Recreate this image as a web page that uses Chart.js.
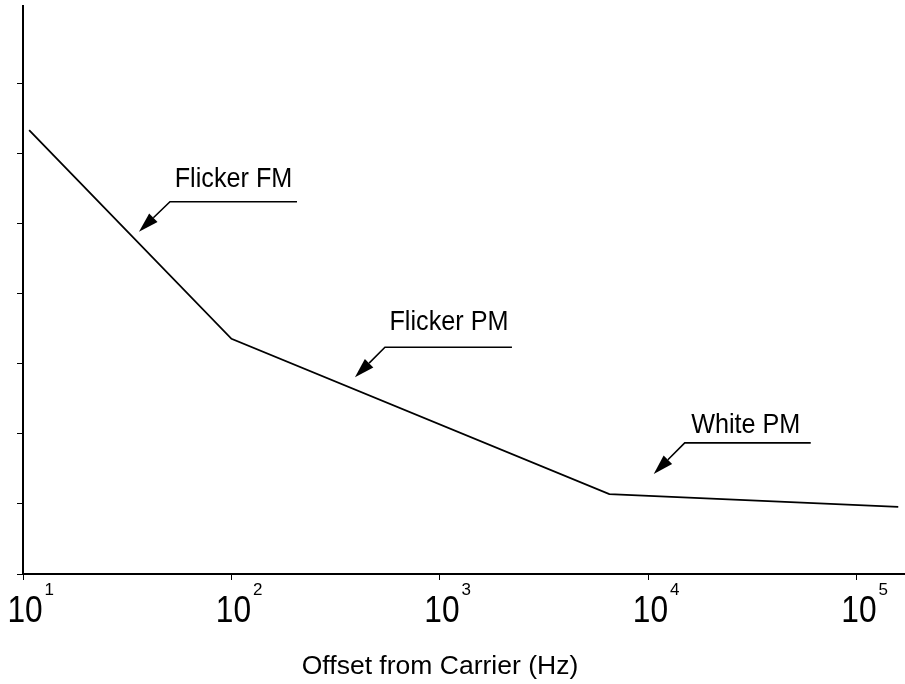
<!DOCTYPE html>
<html><head><meta charset="utf-8">
<script src="https://cdn.jsdelivr.net/npm/chart.js@4"></script>
<style>html,body{margin:0;padding:0;background:#fff;} canvas{display:block;}</style>
</head><body>
<canvas id="c" width="905" height="684"></canvas>
<script>
// ---- data ----
const offsetHz = [10.7, 100, 6490, 157800];
const noiseLevel = [6.34, 3.36, 1.14, 0.96];
const xTickExponents = [1, 2, 3, 4, 5];
const xAxisTitle = 'Offset from Carrier (Hz)';
const annotationLabels = ['Flicker FM', 'Flicker PM', 'White PM'];
const annotationTipHz = [36, 391, 10600];
const annotationTipLevel = [4.89, 2.81, 1.43];

// ---- layout / style ----
const X_MIN = 10, X_MAX = 170000, Y_MIN = 0, Y_MAX = 8.114;
const FONT = '"Liberation Sans", Arial, sans-serif';
const annotationLayout = [
  {elbow: [31, -30], end: [158, -30], text: [94.5, -45]},
  {elbow: [30, -30], end: [157, -30], text: [94, -47]},
  {elbow: [31, -31], end: [157, -31], text: [92, -41]}
];

const points = offsetHz.map((x, i) => ({x: x, y: noiseLevel[i]}));

function drawScaledText(ctx, text, x, y, size, sx, align) {
  ctx.save();
  ctx.font = size + 'px ' + FONT;
  ctx.textAlign = align;
  ctx.textBaseline = 'alphabetic';
  ctx.translate(x, y);
  ctx.scale(sx, 1);
  ctx.fillText(text, 0, 0);
  ctx.restore();
}

const decadeLabels = {
  id: 'decadeLabels',
  afterDraw(chart) {
    const ctx = chart.ctx, xs = chart.scales.x;
    ctx.save();
    ctx.fillStyle = '#000';
    const size = 36, sx = 0.88;
    xTickExponents.forEach(e => {
      const px = xs.getPixelForValue(Math.pow(10, e));
      const cx = px + 2;
      drawScaledText(ctx, '10', cx, 622, size, sx, 'center');
      ctx.font = size + 'px ' + FONT;
      const half = ctx.measureText('10').width * sx / 2;
      const inkRight = cx + half - 0.042 * size * sx;
      drawScaledText(ctx, String(e), inkRight + 3.3, 595, 17, 1, 'left');
    });
    // axis title
    drawScaledText(ctx, xAxisTitle, 440, 674, 26, 1.02, 'center');
    ctx.restore();
  }
};

const arrowNotes = {
  id: 'arrowNotes',
  afterDatasetsDraw(chart) {
    const ctx = chart.ctx, xs = chart.scales.x, ys = chart.scales.y;
    ctx.save();
    ctx.strokeStyle = '#000';
    ctx.fillStyle = '#000';
    ctx.lineWidth = 1.6;
    annotationLabels.forEach((label, i) => {
      const tx = xs.getPixelForValue(annotationTipHz[i]);
      const ty = ys.getPixelForValue(annotationTipLevel[i]);
      const L = annotationLayout[i];
      const ex = tx + L.elbow[0], ey = ty + L.elbow[1];
      const nx = tx + L.end[0], ny = ty + L.end[1];
      const dx = tx - ex, dy = ty - ey, d = Math.hypot(dx, dy);
      const ux = dx / d, uy = dy / d;
      const len = 20, hw = 6;
      const bx = tx - ux * len, by = ty - uy * len;
      ctx.beginPath();
      ctx.moveTo(nx, ny);
      ctx.lineTo(ex, ey);
      ctx.lineTo(bx, by);
      ctx.stroke();
      ctx.beginPath();
      ctx.moveTo(tx, ty);
      ctx.lineTo(bx - uy * hw, by + ux * hw);
      ctx.lineTo(bx + uy * hw, by - ux * hw);
      ctx.closePath();
      ctx.fill();
      drawScaledText(ctx, label, tx + L.text[0], ty + L.text[1], 28, 0.9, 'center');
    });
    ctx.restore();
  }
};

new Chart(document.getElementById('c'), {
  type: 'line',
  data: {
    datasets: [{
      data: points,
      borderColor: '#000',
      borderWidth: 1.8,
      pointRadius: 0,
      tension: 0,
      fill: false
    }]
  },
  options: {
    responsive: false,
    animation: false,
    layout: {padding: {top: 6, right: 0, left: 0, bottom: 0}},
    plugins: {legend: {display: false}, tooltip: {enabled: false}},
    scales: {
      x: {
        type: 'logarithmic',
        min: X_MIN, max: X_MAX,
        afterBuildTicks(scale) {
          scale.ticks = xTickExponents.map(e => ({value: Math.pow(10, e)}));
        },
        afterFit(scale) { scale.height = 110; },
        ticks: {display: false},
        grid: {display: true, drawOnChartArea: false, drawTicks: true, tickLength: 6, color: '#000', lineWidth: 1},
        border: {display: true, color: '#000', width: 2},
        title: {display: false, text: xAxisTitle}
      },
      y: {
        type: 'linear',
        min: Y_MIN, max: Y_MAX,
        afterBuildTicks(scale) {
          scale.ticks = scale.ticks.filter(t => Number.isInteger(t.value));
        },
        afterFit(scale) { scale.width = 23; },
        ticks: {display: false, stepSize: 1},
        grid: {display: true, drawOnChartArea: false, drawTicks: true, tickLength: 6, color: '#000', lineWidth: 1},
        border: {display: true, color: '#000', width: 2}
      }
    }
  },
  plugins: [arrowNotes, decadeLabels]
});
</script>
</body></html>
